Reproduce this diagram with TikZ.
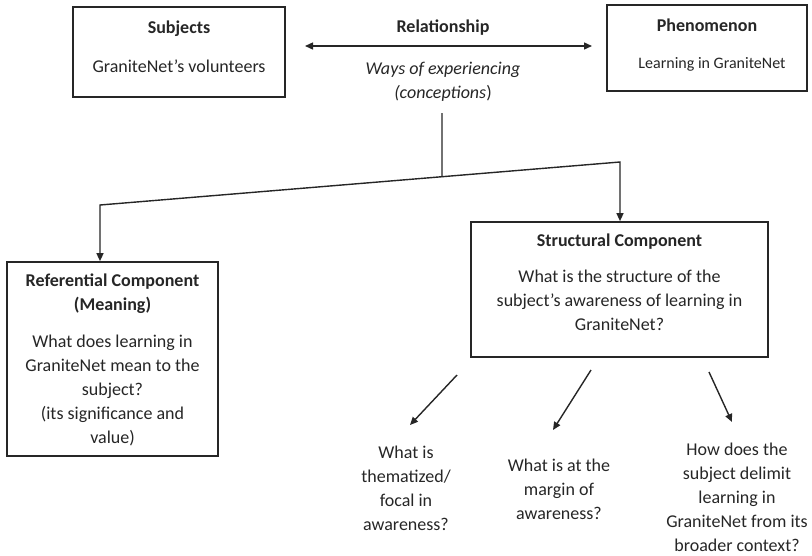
\documentclass[tikz,border=0pt]{standalone}
\usepackage{fontspec}
\setmainfont{Carlito}
\usetikzlibrary{arrows.meta,calc}
\begin{document}
\begin{tikzpicture}[x=1pt,y=-1pt,
  box/.style={draw=black!85, line width=1.7pt, inner sep=0, fill=white},
  txt/.style={align=center, inner sep=0, anchor=base, text=black!85, font=\fontsize{18}{24}\selectfont},
  conn/.style={draw=black!85, line width=1.4pt},
  tip/.style={-{Triangle[length=8pt,width=7pt]}},
  dtip/.style={{Triangle[length=8pt,width=7pt]}-{Triangle[length=8pt,width=7pt]}}
]
\useasboundingbox (0,0) rectangle (812,555);

% boxes
\node[box, minimum width=212pt, minimum height=90pt] (subj) at (179,52) {};
\node[box, minimum width=200pt, minimum height=86pt] (phen) at (707,48) {};
\node[box, minimum width=211pt, minimum height=194pt] (ref) at (112.5,359) {};
\node[box, minimum width=297pt, minimum height=135pt] (struct) at (619.5,289.5) {};

% texts in top boxes (anchor = baseline of last line)
\node[txt] (subjT) at (179,33) {\bfseries Subjects};
\node[txt] (subjB) at (179,72) {GraniteNet’s volunteers};
\node[txt] (phenT) at (707,31) {\bfseries Phenomenon};
\node[txt, font=\fontsize{16}{22}\selectfont] (phenB) at (712,68) {Learning in GraniteNet};

% relationship
\node[txt] (rel) at (443,32) {\bfseries Relationship};
\node[txt] (ways) at (443,98) {\itshape Ways of experiencing\\\textit{(conceptions})};

% component boxes
\node[txt] (refT) at (112.5,310) {\bfseries Referential Component\\\bfseries (Meaning)};
\node[txt] (refB) at (112.5,443) {What does learning in\\GraniteNet mean to the\\subject?\\(its significance and\\value)};
\node[txt] (structT) at (619.5,246) {\bfseries Structural Component};
\node[txt] (structB) at (619.5,330) {What is the structure of the\\subject’s awareness of learning in\\GraniteNet?};

% bottom questions
\node[txt] (q1) at (406,530) {What is\\thematized/\\focal in\\awareness?};
\node[txt] (q2) at (559,519) {What is at the\\margin of\\awareness?};
\node[txt] (q3) at (737,551) {How does the\\subject delimit\\learning in\\GraniteNet from its\\broader context?};

% coordinates for connectors
\coordinate (rl) at (305,46);
\coordinate (rr) at (592,46);
\coordinate (vtop) at (442,113);
\coordinate (bl) at (100,205);
\coordinate (br) at (620,162);
\coordinate (jn) at ($(bl)!0.6577!(br)$);
\coordinate (a1s) at (457,375); \coordinate (a1e) at (410,425);
\coordinate (a2s) at (591,370); \coordinate (a2e) at (553,430);
\coordinate (a3s) at (709,372); \coordinate (a3e) at (732,422);

% connectors
\draw[conn, dtip] (rl) -- (rr);
\draw[conn] (vtop) -- (jn);
\draw[conn, tip, line join=miter] (jn) -- (bl) -- (bl |- ref.north);
\draw[conn, tip, line join=miter] (jn) -- (br) -- (br |- struct.north);
\draw[conn, tip] (a1s) -- (a1e);
\draw[conn, tip] (a2s) -- (a2e);
\draw[conn, tip] (a3s) -- (a3e);
\end{tikzpicture}
\end{document}
